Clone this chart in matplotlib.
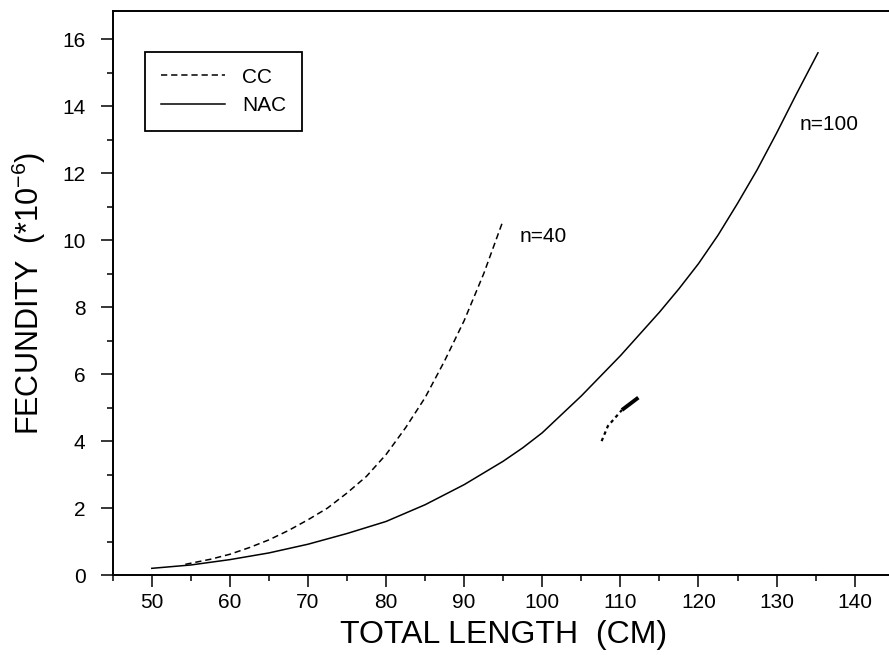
import matplotlib
matplotlib.use('Agg')
import matplotlib.pyplot as plt
from matplotlib.ticker import MultipleLocator

plt.rcParams['font.family'] = ['Liberation Sans', 'DejaVu Sans']
plt.rcParams['mathtext.fontset'] = 'custom'
plt.rcParams['mathtext.rm'] = 'Liberation Sans'
plt.rcParams['mathtext.it'] = 'Liberation Sans'
plt.rcParams['lines.scale_dashes'] = False

# CC (n=40), dashed curve
cc_length = [54.3, 57.5, 60, 62.5, 65, 67.5, 70, 72.5, 75, 77.5, 80, 82.5, 85, 87.5, 90, 92.5, 95]
cc_fecundity = [0.32, 0.47, 0.62, 0.82, 1.05, 1.33, 1.65, 2.0, 2.45, 2.95, 3.6, 4.4, 5.3, 6.4,
                7.6, 9.0, 10.6]

# NAC (n=100), solid curve
nac_length = [50, 55, 60, 65, 70, 75, 80, 85, 90, 92.5, 95, 97.5, 100, 102.5, 105, 107.5, 110,
              112.5, 115, 117.5, 120, 122.5, 125, 127.5, 130, 132.5, 135.3]
nac_fecundity = [0.20, 0.30, 0.46, 0.66, 0.92, 1.24, 1.6, 2.1, 2.7, 3.05, 3.4, 3.8, 4.25, 4.8,
                 5.35, 5.95, 6.55, 7.2, 7.85, 8.55, 9.3, 10.15, 11.1, 12.1, 13.2, 14.35, 15.6]

# stray marks near (110, 5) in the scan
mark_dash_x = [107.6, 108.4, 110.2]
mark_dash_y = [4.0, 4.45, 4.93]
mark_solid_x = [110.2, 112.3]
mark_solid_y = [4.93, 5.3]

fig = plt.figure(figsize=(8.89, 6.64), dpi=100)
ax = fig.add_axes([0.1268, 0.134, 0.8785, 0.849])

ax.plot(cc_length, cc_fecundity, color='black', linewidth=1.1, linestyle=(0, (4.5, 2.8)), label='CC')
ax.plot(nac_length, nac_fecundity, color='black', linewidth=1.1, linestyle='-', label='NAC')
ax.plot(mark_dash_x, mark_dash_y, color='black', linewidth=1.6, linestyle=(0, (2.5, 2.5)))
ax.plot(mark_solid_x, mark_solid_y, color='black', linewidth=2.8, solid_capstyle='butt')

ax.text(97.1, 10.1, 'n=40', fontsize=15, va='center', ha='left')
ax.text(133.0, 13.45, 'n=100', fontsize=15, va='center', ha='left')

#坐標範圍
ax.set_xlim(45, 145)
ax.set_ylim(0, 16.84)

#刻度
ax.xaxis.set_major_locator(MultipleLocator(10))
ax.xaxis.set_minor_locator(MultipleLocator(5))
ax.yaxis.set_major_locator(MultipleLocator(2))
ax.yaxis.set_minor_locator(MultipleLocator(1))
ax.set_xticks(range(50, 141, 10))
ax.tick_params(axis='both', which='major', direction='out', length=8.6, width=1.1,
               labelsize=15, color='black')
ax.tick_params(axis='both', which='minor', direction='out', length=4.5, width=1.1)
ax.tick_params(axis='x', which='major', pad=4)
ax.tick_params(axis='y', which='major', pad=11)

for side in ['left', 'bottom', 'top', 'right']:
    ax.spines[side].set_linewidth(1.4)

ax.set_xlabel('TOTAL LENGTH  (CM)', fontsize=23, labelpad=6)
ax.set_ylabel(r'FECUNDITY  (*10$^{-6}$)', fontsize=22, labelpad=10)

leg = ax.legend(loc='upper left', bbox_to_anchor=(0.0414, 0.928), borderaxespad=0,
                fontsize=15, handlelength=3.1, handletextpad=0.8, borderpad=0.75,
                labelspacing=0.45, fancybox=False, framealpha=1, edgecolor='black')
leg.get_frame().set_linewidth(1.3)

fig.savefig('out.png', dpi=100)
